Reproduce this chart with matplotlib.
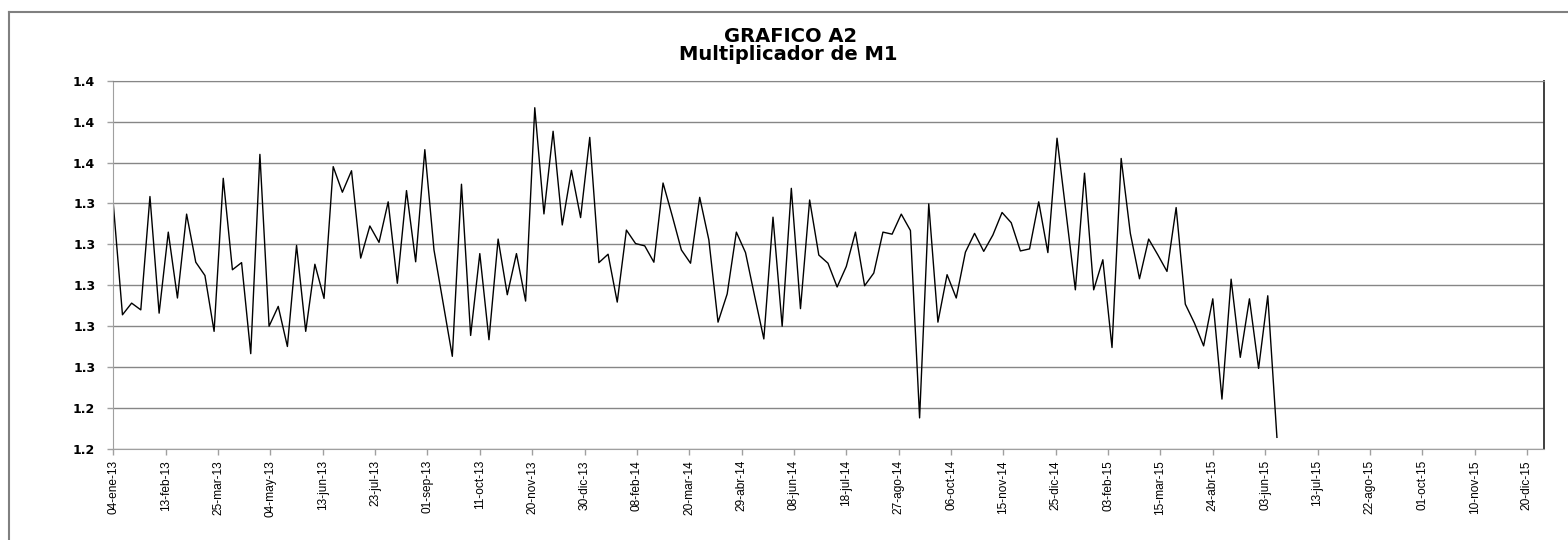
import numpy as np
import pandas as pd
import matplotlib
matplotlib.use("Agg")
import matplotlib.pyplot as plt
import matplotlib.dates as mdates
from matplotlib.ticker import FuncFormatter
from matplotlib.lines import Line2D

# ---- datos: multiplicador de M1, semanal ----
start = "2013-01-04"
multiplicador = [
    1.3297, 1.2756, 1.2813, 1.2780, 1.3334, 1.2764, 1.3160, 1.2838, 1.3248, 1.3013,
    1.2948, 1.2675, 1.3423, 1.2976, 1.3011, 1.2566, 1.3540, 1.2700, 1.2797, 1.2601,
    1.3095, 1.2675, 1.3003, 1.2836, 1.3480, 1.3355, 1.3460, 1.3033, 1.3190, 1.3110,
    1.3308, 1.2910, 1.3363, 1.3015, 1.3563, 1.3073, 1.2813, 1.2553, 1.3394, 1.2655,
    1.3055, 1.2634, 1.3126, 1.2854, 1.3055, 1.2823, 1.3768, 1.3249, 1.3653, 1.3195,
    1.3462, 1.3231, 1.3623, 1.3011, 1.3052, 1.2818, 1.3170, 1.3104, 1.3093, 1.3013,
    1.3400, 1.3240, 1.3073, 1.3008, 1.3330, 1.3122, 1.2720, 1.2858, 1.3160, 1.3060,
    1.2846, 1.2638, 1.3233, 1.2700, 1.3374, 1.2786, 1.3317, 1.3048, 1.3008, 1.2892,
    1.2992, 1.3160, 1.2898, 1.2960, 1.3160, 1.3150, 1.3248, 1.3168, 1.2252, 1.3298,
    1.2720, 1.2952, 1.2838, 1.3062, 1.3154, 1.3066, 1.3146, 1.3256, 1.3206, 1.3068,
    1.3078, 1.3308, 1.3060, 1.3619, 1.3250, 1.2878, 1.3448, 1.2878, 1.3025, 1.2596,
    1.3520, 1.3154, 1.2932, 1.3126, 1.3049, 1.2968, 1.3280, 1.2808, 1.2715, 1.2604,
    1.2834, 1.2344, 1.2930, 1.2548, 1.2834, 1.2494, 1.2849, 1.2157,
]
fechas = pd.date_range(start, periods=len(multiplicador), freq="7D")

# eje x: marcas cada 40 dias, meses en castellano
meses = ["ene", "feb", "mar", "abr", "may", "jun",
         "jul", "ago", "sep", "oct", "nov", "dic"]
tick_fechas = pd.date_range(start, periods=28, freq="40D")
tick_labels = [f"{d.day:02d}-{meses[d.month - 1]}-{d.strftime('%y')}" for d in tick_fechas]

y_ticks = np.round(np.arange(1.21, 1.3901, 0.02), 3)

# ---- figura ----
fig = plt.figure(figsize=(15.68, 5.40), dpi=100)
ax = fig.add_axes([0.07226, 0.16852, 0.9124, 0.6820])

ax.plot(fechas, multiplicador, color="black", lw=1.0)

ax.set_xlim(pd.Timestamp(start), pd.Timestamp("2016-01-02"))
ax.set_ylim(1.21, 1.39)

ax.set_yticks(y_ticks)
# redondeo "excel" (mitad hacia arriba) con un decimal
ax.yaxis.set_major_formatter(FuncFormatter(lambda v, p: f"{np.floor(round(v, 3) * 10 + 0.5) / 10:.1f}"))
ax.set_xticks(mdates.date2num(tick_fechas))
ax.set_xticklabels(tick_labels, rotation=90, family=["Liberation Sans", "DejaVu Sans"], fontsize=8.6)
for lab in ax.get_yticklabels():
    lab.set_fontweight("bold")
    lab.set_fontsize(9)

ax.grid(axis="y", color="#868686", lw=1.0)
ax.set_axisbelow(True)
ax.tick_params(axis="both", direction="out", length=4, color="#A0A0A0", width=1)
ax.tick_params(axis="y", pad=9)
ax.tick_params(axis="x", pad=4)

for s in ["left", "bottom", "top"]:
    ax.spines[s].set_color("#A0A0A0")
ax.spines["top"].set_color("#868686")
ax.spines["right"].set_color("#303030")
ax.spines["right"].set_linewidth(1.3)

# titulo
fig.text(0.5045, 0.9216, "GRAFICO A2", ha="center", va="baseline",
         fontsize=14, fontweight="bold")
fig.text(0.5030, 0.8889, "Multiplicador de M1", ha="center", va="baseline",
         fontsize=14, fontweight="bold")

# marco exterior (solo se ve arriba e izquierda)
fig.add_artist(Line2D([0.00574, 0.00574], [0.0, 0.9778], transform=fig.transFigure,
                      color="#808080", lw=1.5))
fig.add_artist(Line2D([0.00574, 1.0], [0.9778, 0.9778], transform=fig.transFigure,
                      color="#808080", lw=1.5))

fig.savefig("out.png", dpi=100)
